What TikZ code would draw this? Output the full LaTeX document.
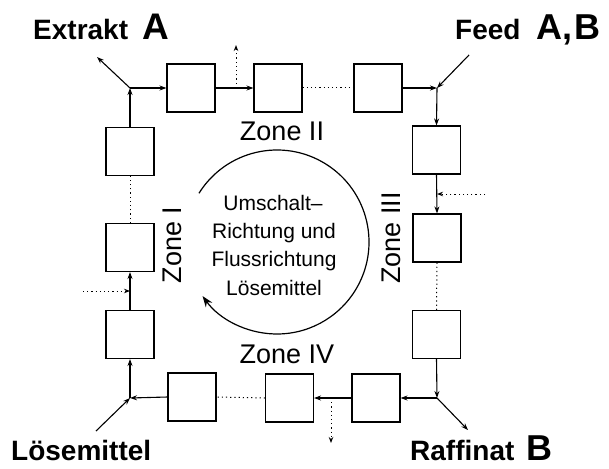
\documentclass[tikz,border=0pt]{standalone}
\usepackage{fontspec}
\setmainfont{Liberation Sans}
\setsansfont{Liberation Sans}
\usetikzlibrary{arrows.meta}
\begin{document}
\begin{tikzpicture}[x=1pt,y=-1pt,
  col/.style={draw,line width=1.1pt,minimum width=48pt,minimum height=48pt,inner sep=0pt},
  flow/.style={line width=1.1pt,-{Stealth[length=7pt,width=5pt]}},
  side/.style={line width=1pt,dash pattern=on 1.2pt off 3pt,-{Stealth[length=6pt,width=4.5pt]}},
  gap/.style={line width=1pt,dash pattern=on 1.2pt off 3pt},
  big/.style={font=\bfseries\fontsize{28}{30}\selectfont},
  zone/.style={font=\fontsize{27}{30}\selectfont},
  mid/.style={font=\fontsize{21}{25}\selectfont,anchor=base}
]
\useasboundingbox (0,0) rectangle (609,468);
% columns
\node[col] (T1) at (191,88) {};
\node[col] (T2) at (278,88) {};
\node[col] (T3) at (378,88) {};
\node[col] (R1) at (436.5,150) {};
\node[col] (R2) at (437,238) {};
\node[col] (R3) at (436.5,334.5) {};
\node[col] (B1) at (376,398) {};
\node[col] (B2) at (289.5,398) {};
\node[col] (B3) at (192,397) {};
\node[col] (L1) at (130,334.5) {};
\node[col] (L2) at (130,247.5) {};
\node[col] (L3) at (130,151.5) {};
% junctions
\coordinate (TL) at (130,88);
\coordinate (TR) at (437,88);
\coordinate (BR) at (437,398);
\coordinate (BL) at (130,398);
% external ends
\coordinate (ex) at (97,57);
\coordinate (fe) at (469,55);
\coordinate (ra) at (468,430);
\coordinate (lo) at (96,431);
% side streams
\coordinate (s1a) at (236,88);
\coordinate (s1b) at (236,45);
\coordinate (s2a) at (485,194);
\coordinate (s2b) at (437,194);
\coordinate (s3a) at (331,398);
\coordinate (s3b) at (331,443);
\coordinate (s4a) at (83,291);
\coordinate (s4b) at (130,291);
% main flows
\draw[flow] (TL) -- (T1.west);
\draw[flow] (T1.east) -- (T2.west);
\draw[gap] (T2.east) -- (T3.west);
\draw[flow] (T3.east) -- (TR);
\draw[flow] (fe) -- (TR);
\draw[flow] (TR) -- (R1.north);
\draw[flow] (R1.south) -- (R2.north);
\draw[gap] (R2.south) -- (R3.north);
\draw[flow] (R3.south) -- (BR);
\draw[flow] (BR) -- (ra);
\draw[flow] (BR) -- (B1.east);
\draw[flow] (B1.west) -- (B2.east);
\draw[gap] (B2.west) -- (B3.east);
\draw[flow] (B3.west) -- (BL);
\draw[flow] (lo) -- (BL);
\draw[flow] (BL) -- (L1.south);
\draw[flow] (L1.north) -- (L2.south);
\draw[gap] (L2.north) -- (L3.south);
\draw[flow] (L3.north) -- (TL);
\draw[flow] (TL) -- (ex);
% side streams
\draw[side] (s1a) -- (s1b);
\draw[side] (s2a) -- (s2b);
\draw[side] (s3a) -- (s3b);
\draw[side] (s4a) -- (s4b);
% circle (y axis points down, so angles are mirrored)
\coordinate (cc) at (277,242);
\draw[line width=1.2pt,-{Stealth[length=11pt,width=8pt]}] ([shift={(-148:92)}]cc) arc[start angle=-148,end angle=144,radius=92];
% center text
\node[mid] (c1) at (273,210) {Umschalt–};
\node[mid] (c2) at (274,238) {Richtung und};
\node[mid] (c3) at (274,266.5) {Flussrichtung};
\node[mid] (c4) at (274,295) {Lösemittel};
% zones
\node[zone,anchor=base] (z2) at (282,140) {Zone II};
\node[zone,anchor=base] (z4) at (287,363) {Zone IV};
\node[zone,rotate=90] (z1) at (172,245) {Zone I};
\node[zone,rotate=90] (z3) at (391,238) {Zone III};
% labels
\node[big,anchor=base west,inner sep=0pt] (lex) at (33,40) {Extrakt\hspace{14pt}{\fontsize{37}{38}\selectfont A}};
\node[big,anchor=base west,inner sep=0pt] (lfe) at (455,40) {Feed\hspace{16pt}{\fontsize{36}{38}\selectfont A,\kern2pt B}};
\node[big,anchor=base west,inner sep=0pt] (llo) at (11,460) {Lösemittel};
\node[big,anchor=base west,inner sep=0pt] (lra) at (410,460) {Raffinat\hspace{12pt}{\fontsize{36}{38}\selectfont B}};
\end{tikzpicture}
\end{document}
